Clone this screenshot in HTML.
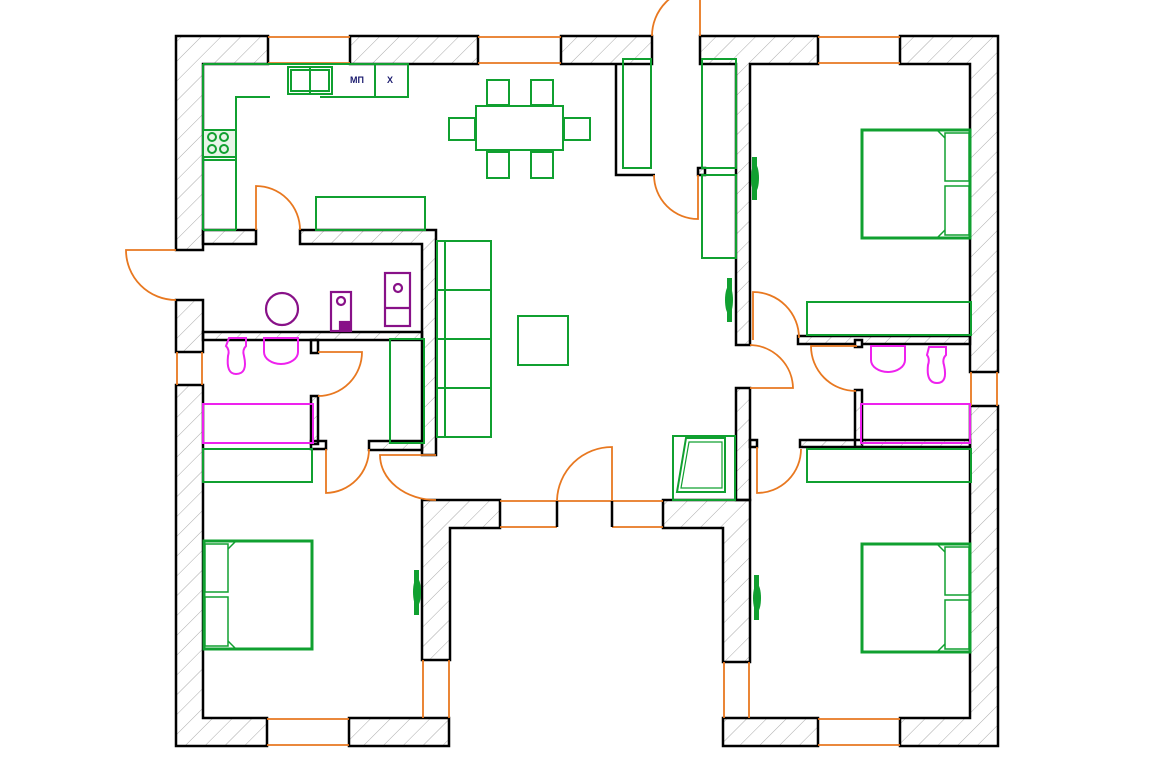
<!DOCTYPE html>
<html><head><meta charset="utf-8"><style>html,body{margin:0;padding:0;background:#fff}svg{display:block}</style></head>
<body>
<svg width="1173" height="781" viewBox="0 0 1173 781" xmlns="http://www.w3.org/2000/svg">
<defs>
<pattern id="h" width="14" height="14" patternUnits="userSpaceOnUse" patternTransform="rotate(45)">
<line x1="0" y1="0" x2="0" y2="14" stroke="#aaa" stroke-width="1"/>
</pattern>
</defs>
<rect width="1173" height="781" fill="#fff"/>
<!-- walls -->
<g fill="url(#h)" stroke="#000" stroke-width="2.5" stroke-linejoin="miter">
<polygon points="268,36 176,36 176,250 203,250 203,64 268,64"/>
<rect x="350" y="36" width="128" height="28"/>
<rect x="561" y="36" width="91" height="28"/>
<polygon points="700,36 818,36 818,64 750,64 750,345 736,345 736,64 700,64"/>
<polygon points="900,36 998,36 998,372 970,372 970,64 900,64"/>
<rect x="176" y="300" width="27" height="52"/>
<polygon points="176,385 203,385 203,718 267,718 267,746 176,746"/>
<rect x="349" y="718" width="100" height="28"/>
<polygon points="422,660 422,500 500,500 500,528 450,528 450,660"/>
<polygon points="663,500 750,500 750,662 723,662 723,528 663,528"/>
<rect x="723" y="718" width="95" height="28"/>
<polygon points="900,718 970,718 970,406 998,406 998,746 900,746"/>
<rect x="203" y="230" width="53" height="14"/>
<polygon points="300,230 436,230 436,455 422,455 422,244 300,244"/>
<rect x="203" y="332" width="219" height="8"/>
<rect x="311" y="340" width="7" height="13"/>
<rect x="311" y="396" width="7" height="48"/>
<rect x="311" y="441" width="15" height="8"/>
<rect x="369" y="441" width="53" height="9"/>
<rect x="798" y="336" width="172" height="8"/>
<rect x="855" y="340" width="7" height="7" fill="#fff"/>
<rect x="855" y="390" width="7" height="57"/>
<rect x="800" y="440" width="170" height="7"/>
<rect x="736" y="388" width="14" height="112"/>
<rect x="750" y="440" width="7" height="7"/>
<rect x="698" y="168" width="7" height="7"/>
</g>
<path d="M616,64 V175 H655" fill="none" stroke="#000" stroke-width="2.5"/>
<!-- windows -->
<g stroke="#e87820" stroke-width="1.8" fill="none">
<path d="M268,37H350M268,63H350M478,37H561M478,63H561M818,37H900M818,63H900"/>
<path d="M177,352V385M202,352V385M971,372V406M997,372V406"/>
<path d="M267,719H349M267,745H349M818,719H900M818,745H900"/>
<path d="M423,660V718M449,660V718M724,662V718M749,662V718"/>
<path d="M500,501H663M500,527H557M612,527H663"/>
<path d="M557,501V527M612,501V527" stroke="#000" stroke-width="2.5"/>
<!-- doors -->
<path d="M176,250 L126,250 A50,50 0 0 0 176,300"/>
<path d="M256,230 L256,186 A44,44 0 0 1 300,230"/>
<path d="M700,36 L700,-12 A48,48 0 0 0 652,36"/>
<path d="M698,175 L698,219 A44,44 0 0 1 654,175"/>
<path d="M753,340 L753,292 A46,46 0 0 1 799,338"/>
<path d="M857,346 L811,346 A45,45 0 0 0 856,391"/>
<path d="M750,345 A44,44 0 0 1 793,388 L750,388"/>
<path d="M757,447 L757,493 A44,44 0 0 0 801,449"/>
<path d="M612,500 L612,447 A55,55 0 0 0 557,500"/>
<path d="M326,449 L326,493 A44,44 0 0 0 369,449"/>
<path d="M436,455 L380,455 A56,45 0 0 0 436,500"/>
<path d="M318,352 L362,352 A44,44 0 0 1 318,396"/>
</g>
<!-- green furniture -->
<g stroke="#10a030" stroke-width="2" fill="none">
<path d="M203,64 V230 M203,64 H408 V97 H320 M270,97 H236 V230 M203,230 H236"/>
<path d="M375,64V97"/>
<rect x="288" y="67" width="44" height="27"/><rect x="291" y="70" width="38" height="21"/><path d="M310,67V94"/>
<rect x="203" y="130" width="33" height="27" fill="#e8f5e8"/>
<circle cx="212" cy="137" r="4"/><circle cx="224" cy="137" r="4"/><circle cx="212" cy="149" r="4"/><circle cx="224" cy="149" r="4"/>
<path d="M203,160H236"/>
<rect x="476" y="106" width="87" height="44"/>
<rect x="487" y="80" width="22" height="25"/><rect x="531" y="80" width="22" height="25"/>
<rect x="487" y="152" width="22" height="26"/><rect x="531" y="152" width="22" height="26"/>
<rect x="449" y="118" width="26" height="22"/><rect x="564" y="118" width="26" height="22"/>
<rect x="316" y="197" width="109" height="33"/>
<rect x="437" y="241" width="54" height="196"/><path d="M445,241V437M437,290H491M437,339H491M437,388H491"/>
<rect x="518" y="316" width="50" height="49"/>
<rect x="390" y="339" width="34" height="104"/>
<rect x="623" y="59" width="28" height="109"/>
<rect x="702" y="59" width="34" height="109"/>
<rect x="702" y="175" width="34" height="83"/>
<rect x="807" y="302" width="164" height="33"/>
<rect x="807" y="449" width="164" height="33"/>
<rect x="203" y="449" width="109" height="33"/>
<rect x="673" y="436" width="62" height="64"/>
<path d="M686,438 H725 V492 H677 Z"/><path d="M689,442 H722 V488 H681 Z" stroke-width="1.2"/>
</g>
<g stroke="#10a030" fill="none">
<rect x="862" y="130" width="108" height="108" stroke-width="3"/>
<rect x="945" y="133" width="24" height="48" stroke-width="1.5"/><rect x="945" y="186" width="24" height="49" stroke-width="1.5"/>
<path d="M937,130 L945,138 M937,238 L945,230" stroke-width="1.5"/>
<rect x="862" y="544" width="108" height="108" stroke-width="3"/>
<rect x="945" y="547" width="24" height="48" stroke-width="1.5"/><rect x="945" y="600" width="24" height="49" stroke-width="1.5"/>
<path d="M937,544 L945,552 M937,652 L945,644" stroke-width="1.5"/>
<rect x="204" y="541" width="108" height="108" stroke-width="3"/>
<rect x="205" y="544" width="23" height="48" stroke-width="1.5"/><rect x="205" y="597" width="23" height="49" stroke-width="1.5"/>
<path d="M236,541 L228,549 M236,649 L228,641" stroke-width="1.5"/>
</g>
<g fill="#10a030">
<ellipse cx="755" cy="178" rx="4" ry="14"/><rect x="752" y="157" width="5" height="43"/>
<ellipse cx="729" cy="300" rx="4" ry="14"/><rect x="727" y="278" width="5" height="44"/>
<ellipse cx="417" cy="592" rx="4" ry="14"/><rect x="414" y="570" width="5" height="45"/>
<ellipse cx="757" cy="598" rx="4" ry="14"/><rect x="754" y="575" width="5" height="45"/>
</g>
<!-- magenta -->
<g stroke="#ee22ee" stroke-width="2" fill="none">
<path d="M229,338 H246 V346 Q242,350 244,356 Q248,374 236,374 Q226,374 228,356 Q230,350 226,346 Z"/>
<path d="M264,338 H298 V352 A17,12 0 0 1 264,352 Z"/>
<rect x="203" y="404" width="110" height="39"/>
<path d="M871,346 H905 V360 A17,12 0 0 1 871,360 Z"/>
<path d="M929,347 H946 V355 Q942,359 944,365 Q948,383 937,383 Q926,383 928,365 Q930,359 927,355 Z"/>
<rect x="861" y="404" width="109" height="39"/>
</g>
<!-- purple -->
<g stroke="#881188" stroke-width="2.2" fill="none">
<circle cx="282" cy="309" r="16"/>
<rect x="331" y="292" width="20" height="39"/><circle cx="341" cy="301" r="4"/><rect x="340" y="322" width="10" height="8" fill="#881188"/>
<rect x="385" y="273" width="25" height="53"/><circle cx="398" cy="288" r="4"/><path d="M385,308H410"/>
</g>
<g font-family="Liberation Sans, sans-serif" font-size="9" font-weight="bold" fill="#1a1a6e">
<text x="350" y="83">МП</text><text x="387" y="83">Х</text>
</g>
</svg>
</body></html>
